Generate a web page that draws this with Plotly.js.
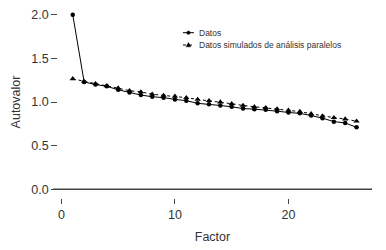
<!DOCTYPE html>
<html>
<head>
<meta charset="utf-8">
<script src="https://cdn.plot.ly/plotly-3.0.1.min.js"></script>
<style>
html,body{margin:0;padding:0;background:#fff;}
#chart{width:386px;height:250px;}
</style>
</head>
<body>
<div id="chart"></div>
<script>
var factors = [1,2,3,4,5,6,7,8,9,10,11,12,13,14,15,16,17,18,19,20,21,22,23,24,25,26];
var datos = [2.00,1.23,1.20,1.18,1.14,1.11,1.08,1.06,1.05,1.03,1.015,0.985,0.975,0.96,0.945,0.925,0.918,0.91,0.895,0.88,0.87,0.845,0.815,0.775,0.76,0.71];
var simulados = [1.265,1.235,1.21,1.185,1.16,1.13,1.115,1.09,1.075,1.065,1.05,1.03,1.015,1.0,0.98,0.96,0.945,0.935,0.92,0.905,0.89,0.865,0.84,0.82,0.805,0.78];
var yTicks = [0,0.5,1.0,1.5,2.0];
var xTicks = [0,10,20];
var legendLabels = ["Datos","Datos simulados de análisis paralelos"];

var FONT = "Liberation Sans, Arial, Helvetica, sans-serif";
var TXT = "#333333";

var plotL = 53.3, plotR = 371.7, plotT = 6, plotB = 198;
var W = 386, H = 250;
function px2paperX(px){ return (px - plotL)/(plotR - plotL); }
function px2paperY(py){ return (plotB - py)/(plotB - plotT); }

var traces = [
  {x: factors, y: simulados, type: 'scatter', mode: 'lines+markers',
   line: {color: '#000', width: 1, dash: 'dot'},
   marker: {symbol: 'triangle-up', size: 5.5, color: '#000'},
   showlegend: false, hoverinfo: 'skip'},
  {x: factors, y: datos, type: 'scatter', mode: 'lines+markers',
   line: {color: '#000', width: 1},
   marker: {symbol: 'circle', size: 4.5, color: '#000'},
   showlegend: false, hoverinfo: 'skip'}
];

// custom legend
var lgX0 = 183, lgX1 = 194, lgTextX = 197;
var lgY = [32.7, 45];
var shapes = [
  {type:'line', xref:'x', yref:'y', x0:-0.74, x1:27.36, y0:0, y1:0, line:{color:'#444', width:1.3}},
  {type:'line', xref:'paper', yref:'paper', x0:px2paperX(lgX0), x1:px2paperX(lgX1), y0:px2paperY(lgY[0]), y1:px2paperY(lgY[0]), line:{color:'#000', width:1}},
  {type:'circle', xref:'paper', yref:'paper', x0:px2paperX(186.8), x1:px2paperX(190.2), y0:px2paperY(lgY[0]-1.7), y1:px2paperY(lgY[0]+1.7), fillcolor:'#000', line:{color:'#000', width:0.5}},
  {type:'line', xref:'paper', yref:'paper', x0:px2paperX(lgX0), x1:px2paperX(lgX1), y0:px2paperY(lgY[1]), y1:px2paperY(lgY[1]), line:{color:'#000', width:1, dash:'dot'}},
  {type:'path', xref:'paper', yref:'paper',
   path: 'M '+px2paperX(186.2)+' '+px2paperY(lgY[1]+1.8)+' L '+px2paperX(190.8)+' '+px2paperY(lgY[1]+1.8)+' L '+px2paperX(188.5)+' '+px2paperY(lgY[1]-2.4)+' Z',
   fillcolor:'#000', line:{color:'#000', width:0.5}}
];
var annotations = legendLabels.map(function(t,i){
  return {text: t, xref:'paper', yref:'paper', x: px2paperX(lgTextX), y: px2paperY(lgY[i]),
          xanchor:'left', yanchor:'middle', showarrow:false,
          font:{family: FONT, size: 8.5, color: TXT}};
});

var layout = {
  width: W, height: H,
  margin: {l: plotL, r: W - plotR, t: plotT, b: H - plotB, pad: 0},
  paper_bgcolor: '#fff', plot_bgcolor: '#fff',
  font: {family: FONT, color: TXT, size: 12.5},
  showlegend: false,
  xaxis: {
    range: [-0.74, 27.36], tickvals: xTicks, ticktext: xTicks.map(String),
    ticks: 'outside', ticklen: 5, tickwidth: 1, tickcolor: '#444',
    showline: false, showgrid: false, zeroline: false,
    tickfont: {family: FONT, size: 12.5, color: TXT},
    title: {text: 'Factor', font: {family: FONT, size: 12.5, color: TXT}, standoff: 11}
  },
  yaxis: {
    range: [-0.1, 2.1], tickvals: yTicks, ticktext: yTicks.map(function(v){return v.toFixed(1);}),
    anchor: 'free', position: px2paperX(57.5),
    ticks: 'outside', ticklen: 6, tickwidth: 1, tickcolor: '#444',
    showline: false, showgrid: false, zeroline: false,
    tickfont: {family: FONT, size: 12.5, color: TXT},
    title: {text: 'Autovalor', font: {family: FONT, size: 12.5, color: TXT}, standoff: 6}
  },
  shapes: shapes,
  annotations: annotations
};

Plotly.newPlot('chart', traces, layout, {staticPlot: true, displayModeBar: false});
</script>
</body>
</html>
